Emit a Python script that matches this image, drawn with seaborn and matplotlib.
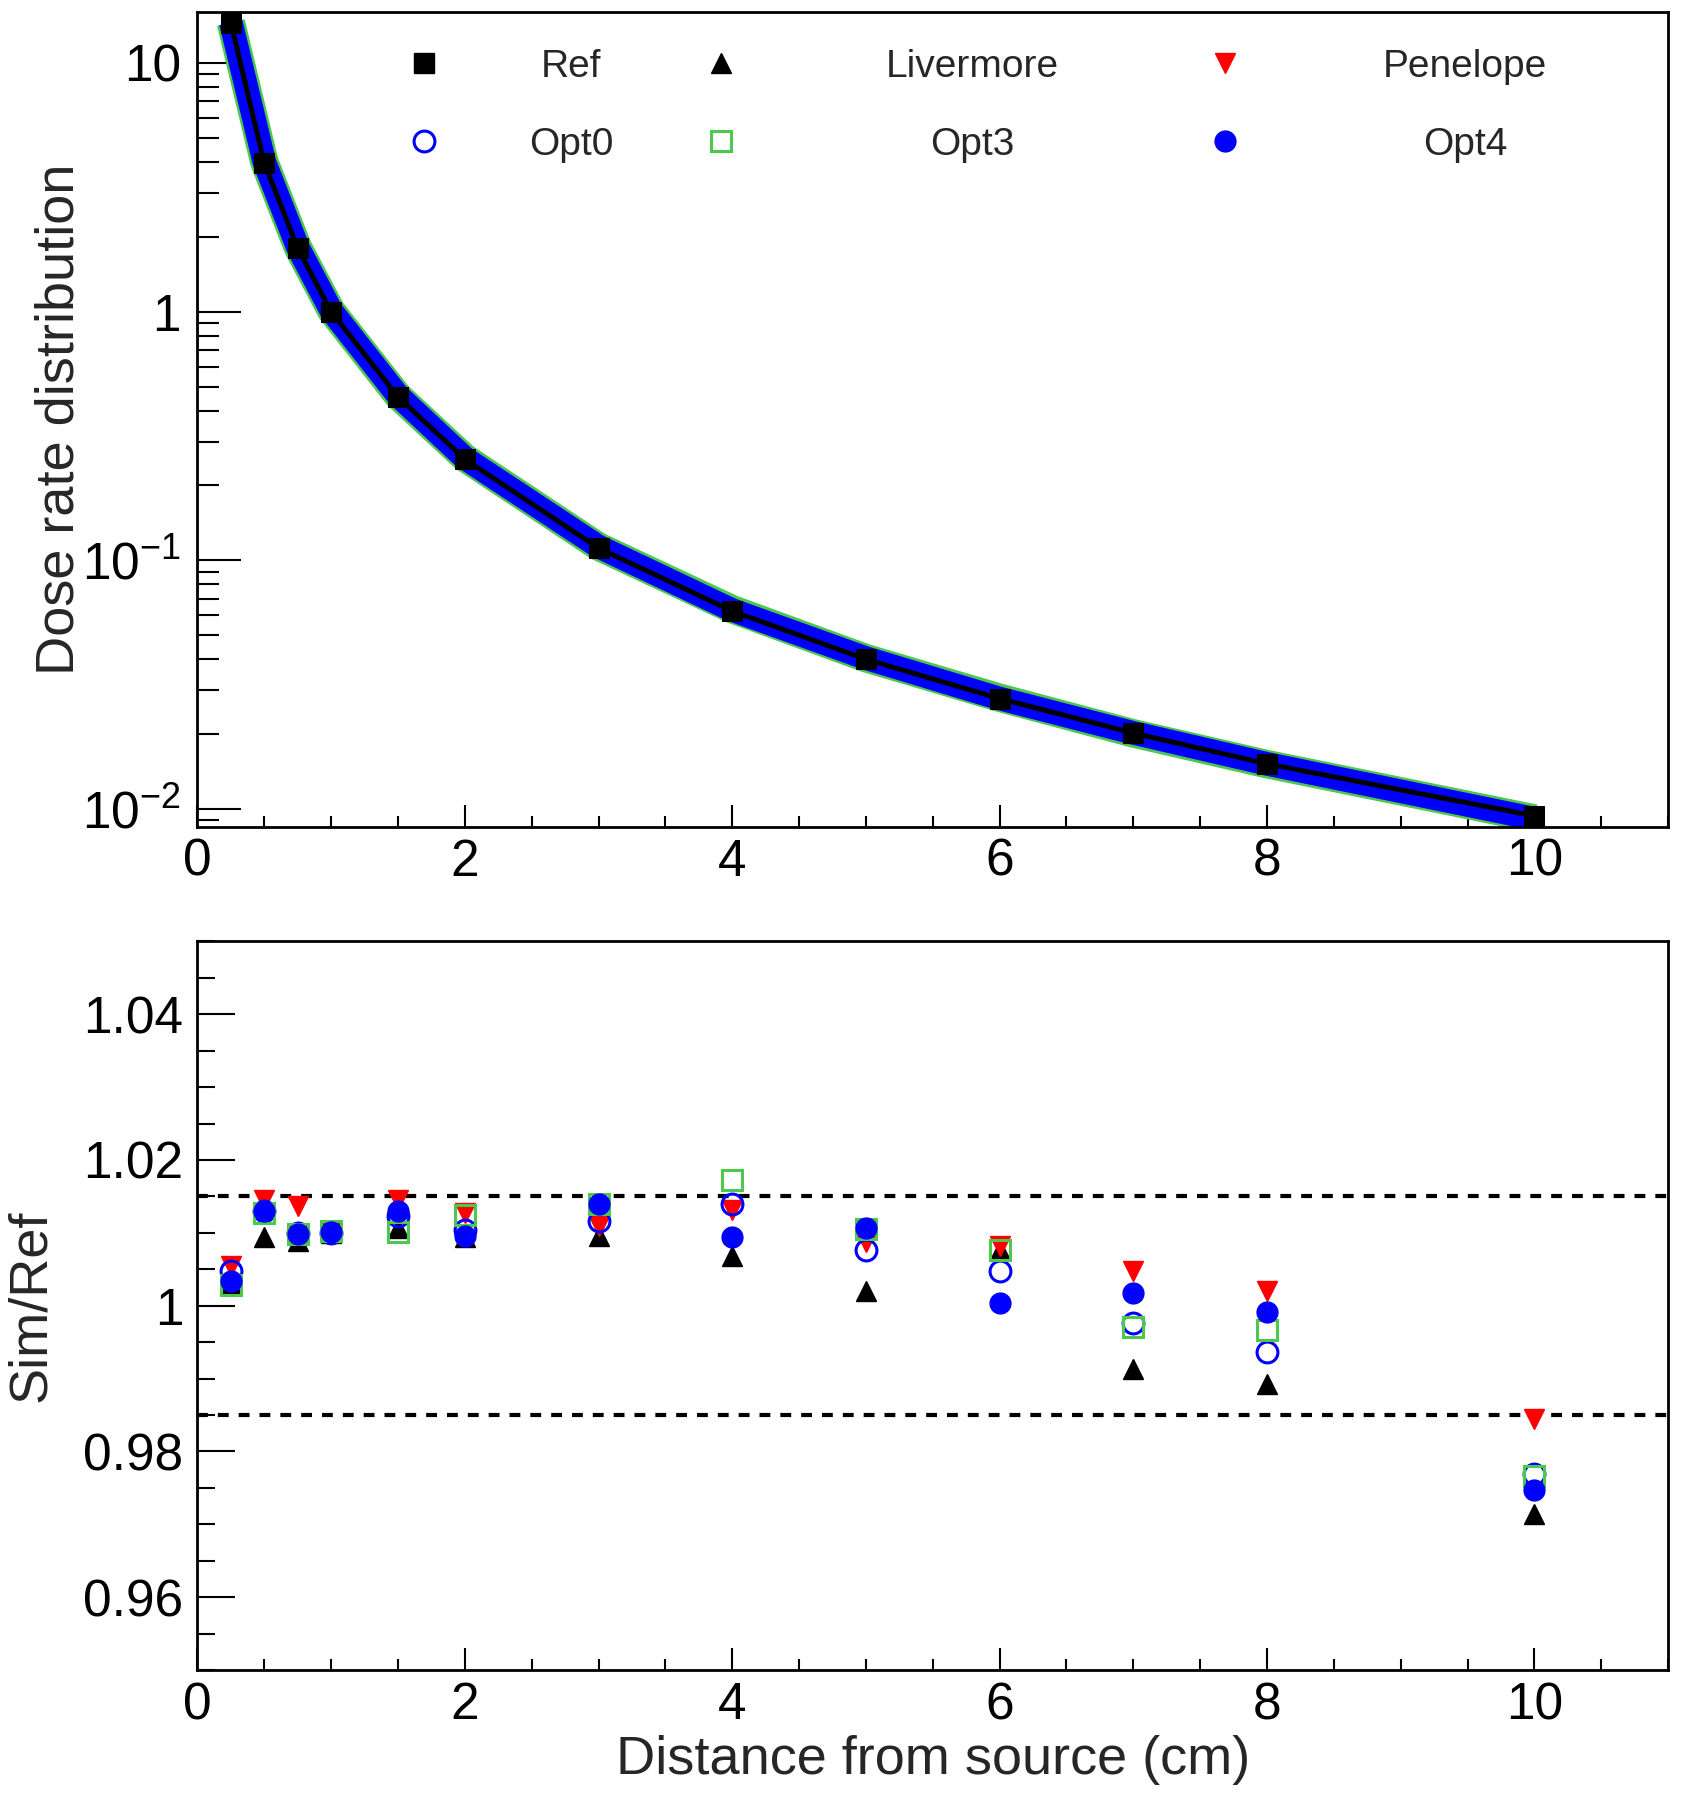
import numpy as np
import pandas as pd
import matplotlib
matplotlib.use('Agg')
import matplotlib.pyplot as plt
import seaborn as sns
from matplotlib.ticker import FixedLocator, MultipleLocator, FuncFormatter, LogLocator, NullFormatter

# %%
# values
distance = [0.25, 0.5, 0.75, 1, 1.5, 2, 3, 4, 5, 6, 7, 8, 10]
dose_ref = [14.5, 3.95, 1.8, 1.0, 0.454, 0.255, 0.112, 0.0625, 0.040, 0.0278, 0.0202, 0.0152, 0.00938]

ratio_livermore = [1.0030, 1.0094, 1.0089, 1.0100, 1.0107, 1.0094, 1.0095, 1.0068, 1.0020, 1.0077, 0.9913, 0.9892, 0.9714]
ratio_penelope = [1.0055, 1.0145, 1.0137, 1.0100, 1.0145, 1.0127, 1.0110, 1.0132, 1.0087, 1.0082, 1.0047, 1.0020, 0.9844]
ratio_opt0 = [1.0048, 1.0130, 1.0100, 1.0100, 1.0123, 1.0104, 1.0116, 1.0139, 1.0077, 1.0047, 0.9976, 0.9937, 0.9769]
ratio_opt3 = [1.0028, 1.0127, 1.0098, 1.0102, 1.0101, 1.0125, 1.0139, 1.0172, 1.0105, 1.0077, 0.9971, 0.9967, 0.9766]
ratio_opt4 = [1.0034, 1.0130, 1.0098, 1.0101, 1.0130, 1.0095, 1.0139, 1.0094, 1.0107, 1.0004, 1.0017, 0.9992, 0.9747]

band_limits = [0.985, 1.015]
log_ticks = [0.01, 0.1, 1, 10]
log_tick_labels = ['$10^{-2}$', '$10^{-1}$', '1', '10']

series_names = ['Livermore', 'Penelope', 'Opt0', 'Opt3', 'Opt4']
series_ratios = [ratio_livermore, ratio_penelope, ratio_opt0, ratio_opt3, ratio_opt4]

# %%
sns.set_style('white')
plt.rcParams['font.family'] = ['Liberation Sans', 'DejaVu Sans']
plt.rcParams['mathtext.fontset'] = 'custom'
plt.rcParams['mathtext.rm'] = 'Liberation Sans'
plt.rcParams['mathtext.it'] = 'Liberation Sans'
plt.rcParams['mathtext.default'] = 'regular'

GREEN = '#4cc84c'
styles = {
    'Ref': dict(marker='s', color='black', mfc='black', mec='black', ms=14),
    'Livermore': dict(marker='^', color='black', mfc='black', mec='black', ms=15),
    'Penelope': dict(marker='v', color='red', mfc='red', mec='red', ms=15),
    'Opt0': dict(marker='o', color='blue', mfc='none', mec='blue', ms=15, mew=2.2),
    'Opt3': dict(marker='s', color=GREEN, mfc='none', mec=GREEN, ms=14, mew=2.2),
    'Opt4': dict(marker='o', color='blue', mfc='blue', mec='blue', ms=15),
}

df = pd.DataFrame({'distance': distance, 'Ref': dose_ref})
for name, r in zip(series_names, series_ratios):
    df[name + '_ratio'] = r
    df[name] = np.array(dose_ref) * np.array(r)

fig = plt.figure(figsize=(16.82, 18), dpi=100)
ax1 = fig.add_axes([0.1174, 0.5408, 0.8743, 0.4528])
ax2 = fig.add_axes([0.1174, 0.0722, 0.8743, 0.4048])

# %%
# top panel: dose rate
band_lw = {'Livermore': 6, 'Penelope': 6, 'Opt0': 6, 'Opt3': 20.5, 'Opt4': 17}
for name in series_names:
    sns.lineplot(data=df, x='distance', y=name, ax=ax1, color=styles[name]['color'],
                 lw=band_lw[name], solid_joinstyle='round', solid_capstyle='butt', legend=False)
sns.lineplot(data=df, x='distance', y='Ref', ax=ax1, color='black', lw=3.6,
             marker='s', ms=14, mec='black', mfc='black', legend=False)

ax1.set_yscale('log')
ax1.set_xlim(0, 11)
ax1.set_ylim(0.0085, 16.1)
ax1.yaxis.set_major_locator(FixedLocator(log_ticks))
ax1.yaxis.set_major_formatter(FuncFormatter(lambda v, p: log_tick_labels[log_ticks.index(v)] if v in log_ticks else ''))
ax1.yaxis.set_minor_locator(LogLocator(base=10, subs=np.arange(2, 10)))
ax1.yaxis.set_minor_formatter(NullFormatter())
ax1.xaxis.set_major_locator(MultipleLocator(2))
ax1.xaxis.set_minor_locator(MultipleLocator(0.5))
ax1.set_xlabel('')
ax1.set_ylabel('Dose rate distribution', fontsize=39, va='center')
ax1.yaxis.set_label_coords(-0.094, 0.5)
ax1.tick_params(axis='y', which='major', length=32, width=1.5, direction='in', labelsize=37, pad=12)
ax1.tick_params(axis='y', which='minor', length=16, width=1.5, direction='in')
ax1.tick_params(axis='x', which='major', length=16, width=1.5, direction='in', labelsize=37, pad=8)
ax1.tick_params(axis='x', which='minor', length=8, width=1.5, direction='in')

# legend drawn by hand (ROOT style: marker left, label centred in the column)
legend_rows = [['Ref', 'Livermore', 'Penelope'], ['Opt0', 'Opt3', 'Opt4']]
marker_x = [0.154, 0.356, 0.699]
text_x = [0.254, 0.527, 0.862]
row_y = [0.937, 0.841]
for row, yy in zip(legend_rows, row_y):
    for name, mx, tx in zip(row, marker_x, text_x):
        st = styles[name]
        ax1.plot([mx], [yy], transform=ax1.transAxes, ls='', marker=st['marker'], ms=st['ms'],
                 mfc=st['mfc'], mec=st['mec'], mew=st.get('mew', 1), clip_on=False)
        ax1.text(tx, yy - 0.005, name, transform=ax1.transAxes, ha='center', va='center', fontsize=28)

# %%
# bottom panel: ratio to reference
for y0 in band_limits:
    ax2.axhline(y0, color='black', lw=3, ls=(0, (2.6, 2.4)), zorder=1)

for name in series_names:
    st = styles[name]
    sns.lineplot(data=df, x='distance', y=name + '_ratio', ax=ax2, ls='', marker=st['marker'],
                 ms=st['ms'], mfc=st['mfc'], mec=st['mec'], mew=st.get('mew', 1),
                 color=st['color'], legend=False, zorder=3)

ax2.set_xlim(0, 11)
ax2.set_ylim(0.95, 1.05)
ax2.xaxis.set_major_locator(MultipleLocator(2))
ax2.xaxis.set_minor_locator(MultipleLocator(0.5))
ax2.yaxis.set_major_locator(MultipleLocator(0.02))
ax2.yaxis.set_minor_locator(MultipleLocator(0.005))
ax2.yaxis.set_major_formatter(FuncFormatter(lambda v, p: '%g' % round(v, 3)))
ax2.set_xlabel('Distance from source (cm)', fontsize=39, va='center')
ax2.xaxis.set_label_coords(0.5, -0.124)
ax2.set_ylabel('Sim/Ref', fontsize=39, va='center')
ax2.yaxis.set_label_coords(-0.113, 0.5)
ax2.tick_params(axis='y', which='major', length=27, width=1.5, direction='in', labelsize=37, pad=10)
ax2.tick_params(axis='y', which='minor', length=13, width=1.5, direction='in')
ax2.tick_params(axis='x', which='major', length=16, width=1.5, direction='in', labelsize=37, pad=8)
ax2.tick_params(axis='x', which='minor', length=8, width=1.5, direction='in')

for ax in (ax1, ax2):
    for sp in ax.spines.values():
        sp.set_linewidth(2)
        sp.set_color('black')
    ax.tick_params(which='both', bottom=True, left=True, top=False, right=False, colors='black')

fig.savefig('out.png', dpi=100, facecolor='white')
